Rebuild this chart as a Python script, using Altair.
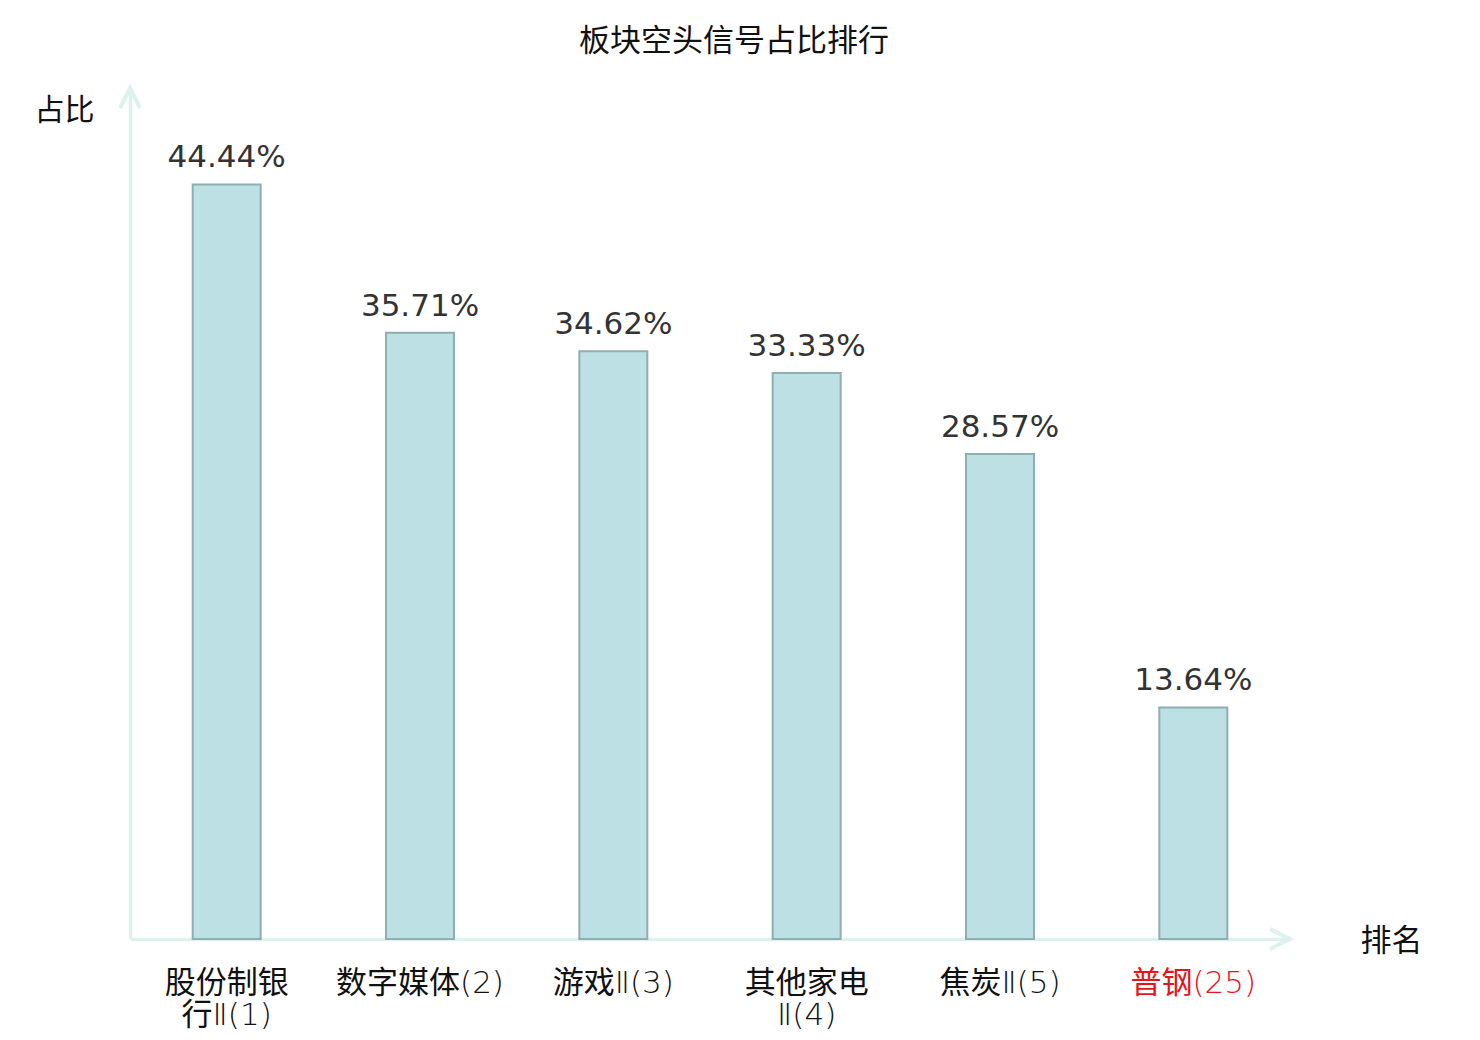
import altair as alt
import pandas as pd

# data
categories = ["股份制银行Ⅱ(1)", "数字媒体(2)", "游戏Ⅱ(3)", "其他家电Ⅱ(4)", "焦炭Ⅱ(5)", "普钢(25)"]
display_labels = ["股份制银\n行Ⅱ(1)", "数字媒体(2)", "游戏Ⅱ(3)", "其他家电\nⅡ(4)", "焦炭Ⅱ(5)", "普钢(25)"]
values = [44.44, 35.71, 34.62, 33.33, 28.57, 13.64]
highlight = "普钢(25)"

df = pd.DataFrame({"cat": display_labels, "name": categories, "value": values})

W, H = 1160, 849
CJK = "Noto Sans CJK SC"
LABEL_FONT = "'DejaVu Sans Light', 'Noto Sans CJK SC'"
AXIS_COLOR = "#DDF1EE"

x_enc = alt.X(
    "cat:N",
    sort=display_labels,
    scale=alt.Scale(paddingInner=0, paddingOuter=0),
    axis=alt.Axis(
        title="排名",
        titleFont=CJK, titleFontSize=31, titleFontWeight="normal", titleColor="#111111",
        titleAngle=0, titleAlign="center", titleBaseline="middle",
        titleX=1261, titleY=2,
        labelExpr="split(datum.label, '\\n')",
        labelAngle=0, labelFont=LABEL_FONT, labelFontSize=31, labelFontWeight="normal",
        labelLineHeight=32,
        labelPadding=29,
        labelColor={"condition": {"test": f"datum.value === '{highlight}'", "value": "#E8131B"}, "value": "#111111"},
        ticks=False,
        domainColor=AXIS_COLOR, domainWidth=3.5,
    ),
)

y_enc = alt.Y(
    "value:Q",
    scale=alt.Scale(domain=[0, 50], nice=False),
    axis=alt.Axis(
        title="占比",
        titleFont=CJK, titleFontSize=30, titleFontWeight="normal", titleColor="#111111",
        titleAngle=0, titleAlign="center", titleBaseline="middle",
        titleX=-66, titleY=20,
        labels=False, ticks=False, grid=False,
        domainColor=AXIS_COLOR, domainWidth=3.5,
    ),
)

base = alt.Chart(df)

bars = base.mark_bar(size=68, fill="#BCE0E3", stroke="#8FAEB0", strokeWidth=2).encode(
    x=x_enc, y=y_enc
)

texts = base.transform_calculate(
    lbl="format(datum.value, '.2f') + '%'"
).mark_text(
    font="DejaVu Sans", fontSize=31, color="#333333", baseline="alphabetic", dy=-17
).encode(
    x=alt.X("cat:N", sort=display_labels), y="value:Q", text="lbl:N"
)

arrow_df = pd.DataFrame({"k": [0]})
arrow_x = alt.Chart(arrow_df).mark_point(
    shape="M-1,-0.5 L0,0 L-1,0.5", filled=False, stroke=AXIS_COLOR, strokeWidth=4,
    size=1600, opacity=1
).encode(x=alt.value(W), y=alt.value(H))
arrow_y = alt.Chart(arrow_df).mark_point(
    shape="M-0.5,1 L0,0 L0.5,1", filled=False, stroke=AXIS_COLOR, strokeWidth=4,
    size=1600, opacity=1
).encode(x=alt.value(0), y=alt.value(-2))

chart = alt.layer(bars, texts, arrow_x, arrow_y).properties(
    width=W, height=H,
    background="white",
    title=alt.TitleParams(
        "板块空头信号占比排行", font=CJK, fontSize=31, fontWeight="normal", color="#111111",
        anchor="middle", offset=22, dx=24
    ),
    autosize=alt.AutoSizeParams(type="none"),
    padding={"left": 122, "top": 82, "right": 182, "bottom": 93},
).configure_view(strokeWidth=0, stroke="transparent")

chart.save("out.html", embed_options={"renderer": "svg", "actions": False})
